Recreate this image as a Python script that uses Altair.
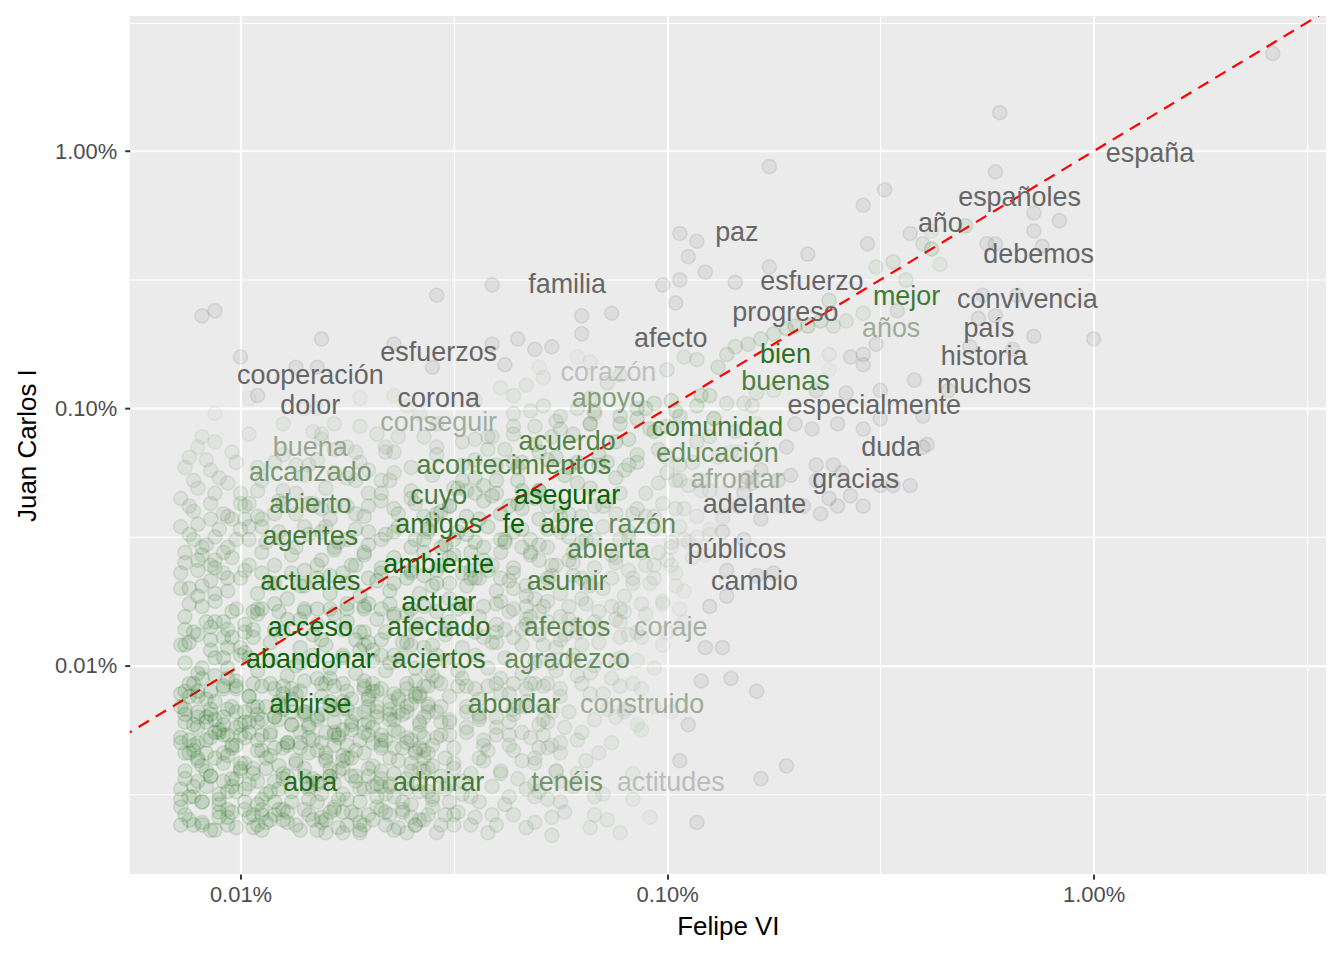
import altair as alt
import pandas as pd
import numpy as np

# word counts (share = count / total)
FELIPE_TOTAL = 6860
JC_TOTAL = 22590

WORDS = ["españa", "españoles", "año", "debemos", "paz", "familia", "esfuerzo", "mejor",
         "convivencia", "progreso", "años", "país", "afecto", "esfuerzos", "bien", "historia",
         "corazón", "cooperación", "buenas", "muchos", "corona", "apoyo", "dolor",
         "especialmente", "conseguir", "comunidad", "acuerdo", "buena", "duda", "educación",
         "acontecimientos", "alcanzado", "afrontar", "gracias", "cuyo", "asegurar", "abierto",
         "adelante", "amigos", "fe", "abre", "razón", "agentes", "abierta", "públicos",
         "ambiente", "actuales", "asumir", "cambio", "actuar", "acceso", "afectado", "afectos",
         "coraje", "abandonar", "aciertos", "agradezco", "abrirse", "abordar", "construido",
         "abra", "admirar", "tenéis", "actitudes"]
FELIPE_N = [93, 46, 30, 51, 10, 4, 15, 25,
            48, 13, 23, 39, 7, 2, 13, 38,
            5, 1, 13, 38, 2, 5, 1,
            21, 2, 9, 4, 1, 23, 9,
            3, 1, 10, 19, 2, 4, 1,
            11, 2, 3, 4, 6, 1, 5, 10,
            2, 1, 4, 11, 2, 1, 2, 4,
            7, 1, 2, 4, 1, 3, 6,
            1, 2, 4, 7]
JC_N = [277, 188, 148, 113, 137, 86, 88, 77,
        75, 67, 58, 58, 53, 47, 46, 45,
        39, 38, 36, 35, 31, 31, 29,
        29, 25, 24, 21, 20, 20, 19,
        17, 16, 15, 15, 13, 13, 12,
        12, 10, 10, 10, 10, 9, 8, 8,
        7, 6, 6, 6, 5, 4, 4, 4,
        4, 3, 3, 3, 2, 2, 2,
        1, 1, 1, 1]

# jittered points: (log10 share Felipe VI, log10 share Juan Carlos I) x 100
PTS_UPPER = [
    (-158, -162), (-222, -185), (-223, -208), (-214, -224), (-208, -227), (-214, -231), (-212, -237),
    (-223, -236), (-225, -236), (-230, -229), (-238, -231), (-238, -238), (-236, -244), (-226, -256),
    (-218, -256), (-227, -265), (-223, -264), (-214, -272), (-200, -273), (-229, -276), (-219, -277),
    (-234, -293), (-239, -314),
    (-276, -206), (-249, -215), (-254, -221), (-243, -232), (-240, -236), (-297, -232), (-293, -235),
    (-295, -241), (-253, -236), (-267, -240), (-276, -245), (-291, -247), (-251, -245), (-247, -243),
    (-297, -250), (-301, -252), (-244, -250), (-284, -251), (-262, -258), (-298, -259),
    (-354, -256), (-341, -252),
]
PTS_MID_LEFT = [
    (-409, -264), (-406, -262), (-381, -273), (-400, -280), (-364, -275), (-341, -275), (-335, -273),
    (-387, -284), (-382, -284), (-355, -284), (-338, -283), (-398, -296), (-396, -295), (-406, -302),
    (-382, -300), (-364, -295), (-361, -299), (-339, -292), (-336, -295), (-333, -291),
    (-409, -311), (-406, -313), (-410, -315), (-412, -319), (-383, -309), (-381, -310), (-378, -306),
    (-368, -310), (-366, -315), (-364, -317), (-357, -311), (-354, -315), (-348, -313), (-342, -311),
    (-336, -310), (-338, -316), (-373, -317), (-375, -315),
    (-413, -323), (-407, -324), (-411, -328), (-403, -329), (-396, -332), (-392, -321), (-387, -322),
    (-382, -320), (-378, -325), (-373, -328), (-370, -324), (-367, -328), (-364, -325), (-348, -328),
    (-343, -330), (-340, -322), (-334, -321), (-401, -321),
    (-414, -335), (-412, -338), (-406, -333), (-400, -337), (-398, -337), (-396, -342), (-392, -341),
    (-390, -337), (-387, -333), (-384, -337), (-381, -339), (-378, -338), (-373, -341), (-370, -338),
    (-367, -333), (-364, -339), (-360, -335), (-357, -342), (-354, -341), (-351, -338), (-347, -332),
    (-345, -333), (-341, -334), (-337, -338), (-334, -332), (-410, -345), (-407, -343), (-404, -341),
    (-402, -343), (-399, -343),
    (-414, -346), (-411, -351), (-409, -354), (-406, -350), (-403, -354), (-400, -347), (-398, -351),
    (-395, -346), (-390, -351), (-385, -346), (-381, -348), (-378, -354), (-375, -351), (-371, -356),
    (-370, -348), (-367, -351), (-364, -348), (-360, -354), (-357, -351), (-356, -348), (-353, -354),
    (-350, -351), (-346, -356), (-343, -354), (-339, -351), (-336, -348), (-334, -354), (-413, -356),
    (-410, -359), (-406, -359), (-404, -356),
    (-414, -364), (-410, -363), (-407, -361), (-404, -364), (-403, -366), (-398, -361), (-395, -364),
    (-392, -368), (-388, -364), (-385, -369), (-382, -361), (-379, -365), (-376, -364), (-373, -361),
    (-370, -366), (-367, -364), (-364, -368), (-360, -364), (-357, -365), (-354, -363), (-351, -368),
    (-348, -364), (-345, -366), (-342, -363), (-339, -366), (-336, -364), (-333, -369), (-412, -370),
    (-409, -369), (-406, -372),
]
PTS_MID_RIGHT = [
    (-320, -264), (-313, -263), (-320, -271), (-331, -277), (-327, -276), (-321, -280), (-318, -282),
    (-330, -284), (-329, -288), (-314, -290), (-311, -287), (-300, -285), (-296, -280), (-293, -281),
    (-288, -284), (-286, -279), (-284, -276), (-281, -275), (-278, -273), (-275, -271), (-272, -269),
    (-270, -268), (-267, -268), (-264, -266), (-261, -268), (-258, -266), (-254, -263), (-246, -262),
    (-262, -279), (-257, -280), (-254, -283), (-254, -279), (-251, -275), (-242, -289), (-250, -293),
    (-258, -294), (-262, -285), (-265, -293), (-275, -293), (-279, -294), (-282, -298), (-286, -298),
    (-293, -299), (-290, -295), (-299, -297), (-303, -298), (-307, -300), (-311, -303), (-317, -302),
    (-321, -300), (-325, -303), (-329, -299), (-331, -307), (-325, -308), (-318, -306), (-311, -306),
    (-304, -308), (-297, -303), (-289, -304), (-270, -306), (-266, -308), (-260, -306), (-254, -308),
    (-250, -304), (-240, -303), (-278, -313), (-272, -315), (-283, -317), (-328, -320), (-321, -321),
    (-314, -321), (-310, -324), (-307, -321), (-300, -319), (-300, -325), (-297, -328), (-295, -330),
    (-292, -328), (-287, -333), (-282, -333), (-280, -329), (-278, -324), (-274, -328), (-271, -326),
    (-265, -322), (-261, -322), (-259, -325), (-265, -328), (-257, -334), (-260, -338), (-262, -335),
    (-264, -341), (-254, -338), (-247, -330), (-250, -330), (-243, -330), (-240, -315), (-268, -338),
    (-331, -335), (-328, -338), (-323, -341), (-317, -338), (-312, -341), (-307, -339), (-303, -342),
    (-298, -339), (-297, -346), (-296, -351), (-293, -350), (-299, -354), (-302, -356), (-307, -355),
    (-311, -351), (-317, -351), (-323, -350), (-328, -354), (-332, -351), (-330, -359), (-326, -361),
    (-323, -359), (-312, -360), (-309, -363), (-305, -361), (-300, -359), (-298, -364), (-303, -366),
    (-308, -368), (-313, -366), (-318, -368), (-322, -365), (-328, -366), (-286, -363), (-279, -365),
    (-275, -364), (-278, -343), (-273, -338), (-287, -343), (-290, -347), (-282, -351), (-285, -338),
]
PTS_LOW_LEFT = [
    (-412, -376), (-406, -375), (-401, -378), (-396, -378), (-395, -378), (-391, -379), (-385, -379),
    (-382, -378), (-379, -378), (-375, -376), (-371, -377), (-370, -376), (-367, -378), (-364, -380),
    (-360, -378), (-348, -376), (-343, -377), (-340, -376), (-336, -378), (-333, -377),
    (-413, -386), (-411, -387), (-407, -385), (-404, -383), (-403, -386), (-399, -387), (-397, -389),
    (-372, -387), (-370, -391), (-367, -390), (-340, -387), (-336, -389), (-334, -386),
    (-412, -391), (-407, -390), (-403, -393), (-404, -397), (-399, -395), (-372, -394), (-371, -392),
    (-367, -396), (-364, -396), (-360, -392), (-357, -393), (-354, -396), (-340, -391),
    (-412, -407), (-409, -405), (-406, -404), (-403, -405), (-401, -409), (-413, -410), (-410, -412),
    (-407, -410), (-397, -407), (-393, -407), (-390, -408), (-386, -410), (-382, -405), (-379, -405),
    (-376, -407), (-371, -408), (-370, -412), (-367, -409), (-364, -411), (-361, -409), (-358, -412),
    (-356, -408), (-353, -407), (-348, -405), (-345, -409), (-342, -408), (-339, -405), (-336, -407),
    (-333, -409),
    (-414, -416), (-410, -418), (-408, -422), (-406, -421), (-404, -420), (-403, -417), (-400, -423),
    (-413, -422), (-399, -418), (-396, -416), (-395, -421), (-392, -420), (-390, -417), (-388, -423),
    (-385, -418), (-382, -420), (-379, -416), (-376, -414), (-374, -422), (-371, -418), (-370, -416),
    (-368, -420), (-365, -417), (-363, -413), (-361, -418), (-359, -412), (-357, -420), (-356, -416),
    (-353, -422), (-351, -421), (-347, -418), (-344, -421), (-340, -420), (-337, -422), (-336, -417),
    (-412, -429), (-410, -430), (-406, -426), (-404, -427), (-402, -432), (-413, -434), (-408, -434),
    (-406, -436), (-403, -435), (-400, -438), (-398, -426), (-395, -427), (-392, -432), (-389, -430),
    (-386, -432), (-384, -434), (-381, -430), (-378, -427), (-376, -435), (-375, -431), (-371, -426),
    (-369, -430), (-367, -427), (-364, -432), (-361, -430), (-359, -434), (-356, -434), (-353, -427),
    (-351, -427), (-343, -429), (-344, -436), (-337, -431), (-334, -426),
    (-410, -445), (-407, -443), (-404, -445), (-403, -449), (-400, -440), (-396, -445), (-394, -440),
    (-393, -449), (-389, -443), (-385, -440), (-382, -445), (-379, -443), (-376, -440), (-373, -443),
    (-371, -448), (-370, -443), (-367, -447), (-364, -442), (-361, -448), (-358, -440), (-355, -439),
    (-352, -448), (-350, -440),
    (-414, -452), (-409, -453), (-405, -452), (-403, -456), (-399, -453), (-397, -458), (-395, -456),
    (-392, -453), (-389, -457), (-385, -456), (-382, -453), (-378, -456), (-376, -457), (-373, -458),
    (-371, -462), (-414, -462), (-411, -462), (-406, -464), (-403, -462), (-396, -462), (-395, -464),
    (-392, -458), (-390, -460), (-382, -464), (-380, -465), (-376, -465), (-372, -465), (-367, -456),
    (-365, -458), (-364, -464), (-361, -465), (-359, -462), (-356, -458), (-354, -465), (-351, -453),
    (-350, -458), (-346, -462), (-342, -465),
]
PTS_LOW_RIGHT = [
    (-331, -374), (-328, -375), (-323, -377), (-319, -376), (-313, -377), (-310, -379), (-306, -376),
    (-301, -376), (-297, -378), (-290, -377), (-286, -373),
    (-332, -381), (-328, -383), (-323, -382), (-317, -383), (-311, -383), (-307, -387), (-300, -387),
    (-311, -389), (-325, -390), (-329, -392), (-320, -392), (-291, -393), (-287, -393),
    (-331, -399), (-327, -399), (-322, -398), (-318, -403), (-312, -399), (-307, -398),
    (-332, -407), (-328, -407), (-325, -409), (-321, -404), (-318, -411), (-313, -405), (-311, -408),
    (-308, -407), (-292, -406), (-285, -405), (-279, -410),
    (-329, -416), (-314, -417), (-312, -420), (-310, -418), (-303, -416), (-299, -418),
    (-329, -421), (-324, -424), (-321, -429), (-329, -427), (-325, -430), (-330, -432), (-325, -434),
    (-331, -436),
    (-307, -423), (-306, -425), (-295, -423), (-316, -434), (-297, -437), (-272, -439), (-278, -444),
    (-308, -442), (-321, -442), (-325, -445),
    (-331, -451), (-325, -453), (-317, -451), (-308, -452), (-317, -458), (-314, -460), (-311, -465),
    (-327, -466), (-293, -461),
]
# further overlapping points of the dense low-frequency cloud (estimated from its shading)
PTS_CLOUD = [
    (-413, -458), (-409, -461), (-405, -457), (-401, -463), (-398, -459), (-394, -461), (-391, -456),
    (-387, -462), (-384, -458), (-380, -460), (-377, -463), (-374, -457), (-369, -460), (-366, -462),
    (-362, -457), (-358, -460), (-353, -462), (-349, -457), (-345, -459), (-340, -462), (-336, -458),
    (-331, -461), (-324, -457), (-318, -463), (-304, -459),
    (-414, -448), (-411, -451), (-408, -447), (-405, -454), (-401, -449), (-398, -446), (-395, -452),
    (-391, -448), (-388, -453), (-384, -447), (-381, -450), (-378, -446), (-375, -452), (-372, -448),
    (-368, -451), (-365, -446), (-362, -453), (-358, -449), (-355, -452), (-351, -446), (-348, -450),
    (-344, -453), (-341, -447), (-337, -451), (-333, -448), (-328, -452), (-322, -447), (-315, -450),
    (-413, -441), (-410, -437), (-407, -443), (-404, -438), (-401, -444), (-397, -440), (-394, -436),
    (-390, -442), (-387, -438), (-383, -444), (-380, -437), (-377, -441), (-374, -436), (-370, -440),
    (-367, -444), (-363, -437), (-360, -441), (-357, -436), (-353, -443), (-350, -438), (-346, -442),
    (-343, -437), (-339, -441), (-335, -444), (-331, -438), (-326, -441), (-319, -437),
    (-414, -428), (-411, -433), (-408, -429), (-405, -426), (-402, -431), (-399, -428), (-396, -433),
    (-393, -427), (-389, -431), (-386, -426), (-383, -429), (-380, -434), (-377, -428), (-373, -433),
    (-370, -427), (-367, -431), (-363, -426), (-360, -429), (-357, -433), (-354, -428), (-350, -432),
    (-347, -426), (-343, -431), (-340, -427), (-336, -433), (-332, -428), (-327, -431), (-320, -426),
    (-313, -430),
    (-413, -419), (-410, -424), (-407, -417), (-404, -423), (-401, -418), (-398, -422), (-394, -416),
    (-391, -421), (-388, -418), (-384, -424), (-381, -419), (-378, -422), (-375, -417), (-371, -423),
    (-368, -418), (-364, -421), (-361, -416), (-358, -423), (-354, -418), (-351, -422), (-347, -416),
    (-344, -420), (-340, -424), (-336, -419), (-333, -416), (-328, -422), (-323, -418), (-317, -421),
    (-310, -417),
    (-414, -411), (-411, -407), (-408, -413), (-404, -409), (-401, -406), (-398, -412), (-395, -408),
    (-391, -414), (-388, -409), (-385, -406), (-381, -412), (-378, -408), (-374, -413), (-371, -406),
    (-368, -410), (-365, -414), (-361, -407), (-358, -411), (-354, -406), (-351, -412), (-347, -408),
    (-344, -413), (-340, -407), (-337, -411), (-333, -414), (-329, -408), (-325, -412), (-320, -407),
    (-315, -411), (-306, -409),
    (-413, -399), (-410, -403), (-406, -397), (-403, -401), (-400, -396), (-396, -402), (-393, -398),
    (-389, -404), (-386, -399), (-383, -396), (-379, -401), (-376, -397), (-373, -403), (-369, -398),
    (-366, -402), (-362, -397), (-359, -401), (-355, -404), (-352, -398), (-349, -402), (-345, -396),
    (-342, -401), (-338, -397), (-334, -403), (-330, -398), (-326, -402), (-322, -396), (-317, -400),
    (-311, -397), (-303, -401),
    (-414, -392), (-410, -388), (-407, -394), (-404, -389), (-400, -393), (-397, -386), (-393, -391),
    (-390, -387), (-386, -393), (-383, -388), (-380, -392), (-376, -386), (-373, -390), (-369, -394),
    (-366, -387), (-362, -391), (-359, -386), (-355, -392), (-352, -388), (-348, -393), (-345, -387),
    (-341, -391), (-338, -386), (-334, -392), (-330, -388), (-326, -393), (-321, -387), (-316, -391),
    (-309, -388), (-301, -392),
    (-413, -381), (-409, -377), (-406, -383), (-402, -379), (-399, -384), (-396, -380), (-392, -376),
    (-389, -382), (-385, -378), (-382, -384), (-378, -380), (-375, -383), (-371, -378), (-368, -382),
    (-365, -376), (-361, -380), (-358, -384), (-354, -379), (-351, -383), (-347, -377), (-344, -381),
    (-340, -384), (-337, -379), (-333, -382), (-329, -377), (-325, -381), (-321, -384), (-316, -379),
    (-312, -382), (-305, -380), (-296, -383),
    (-414, -370), (-410, -373), (-407, -367), (-403, -371), (-400, -366), (-396, -372), (-393, -368),
    (-389, -374), (-386, -369), (-382, -366), (-379, -372), (-375, -368), (-372, -373), (-368, -367),
    (-365, -371), (-361, -366), (-358, -372), (-354, -368), (-351, -374), (-347, -369), (-344, -366),
    (-340, -371), (-337, -367), (-333, -373), (-329, -368), (-325, -372), (-320, -366), (-315, -370),
    (-310, -373), (-304, -368), (-296, -371),
    (-413, -360), (-409, -357), (-406, -362), (-402, -358), (-399, -363), (-395, -356), (-392, -361),
    (-388, -357), (-385, -363), (-381, -359), (-378, -355), (-374, -361), (-371, -357), (-367, -362),
    (-364, -358), (-360, -363), (-357, -356), (-353, -361), (-350, -357), (-346, -363), (-343, -359),
    (-339, -356), (-336, -362), (-332, -357), (-327, -361), (-322, -356), (-317, -362), (-312, -358),
    (-306, -356), (-299, -361), (-291, -357),
    (-412, -349), (-408, -353), (-405, -347), (-401, -351), (-398, -346), (-394, -352), (-391, -348),
    (-387, -354), (-384, -349), (-380, -346), (-377, -352), (-373, -347), (-370, -353), (-366, -349),
    (-363, -346), (-359, -351), (-356, -347), (-352, -353), (-349, -348), (-345, -352), (-342, -346),
    (-338, -351), (-334, -347), (-330, -353), (-325, -348), (-320, -352), (-315, -346), (-309, -350),
    (-303, -347), (-295, -352), (-287, -348),
    (-411, -340), (-407, -337), (-403, -342), (-399, -338), (-395, -343), (-391, -336), (-387, -341),
    (-383, -337), (-379, -343), (-375, -338), (-371, -342), (-367, -336), (-363, -341), (-359, -337),
    (-355, -343), (-351, -338), (-347, -342), (-343, -336), (-339, -341), (-335, -337), (-330, -343),
    (-325, -338), (-320, -342), (-314, -336), (-308, -341), (-301, -337), (-293, -342), (-283, -338),
    (-410, -331), (-405, -327), (-400, -333), (-395, -328), (-390, -332), (-385, -326), (-380, -331),
    (-375, -327), (-370, -333), (-365, -328), (-360, -332), (-355, -326), (-350, -331), (-345, -327),
    (-340, -333), (-335, -328), (-330, -332), (-324, -326), (-318, -331), (-312, -327), (-305, -333),
    (-298, -328), (-290, -332), (-281, -327),
    (-408, -320), (-402, -317), (-396, -323), (-390, -318), (-384, -322), (-378, -316), (-372, -321),
    (-366, -317), (-360, -323), (-354, -318), (-348, -322), (-342, -316), (-336, -321), (-330, -317),
    (-323, -323), (-316, -318), (-309, -322), (-302, -316), (-294, -321), (-285, -317),
    (-398, -310), (-390, -306), (-381, -312), (-372, -307), (-363, -311), (-354, -306), (-345, -312),
    (-336, -307), (-327, -311), (-318, -306), (-309, -312), (-300, -307), (-290, -311), (-279, -306),
    (-385, -300), (-372, -296), (-358, -302), (-345, -297), (-332, -301), (-318, -296), (-305, -300),
    (-292, -295), (-280, -299),
]
# the darkest patches: words said once or twice by each king
PTS_CORE = [
    (-412, -460), (-407, -464), (-403, -459), (-397, -463), (-393, -460), (-386, -464), (-381, -459),
    (-375, -462), (-370, -458), (-363, -463), (-357, -460),
    (-414, -455), (-409, -453), (-402, -457), (-396, -454), (-390, -456), (-384, -452), (-378, -455),
    (-372, -453), (-366, -457), (-360, -454), (-355, -451),
    (-411, -447), (-405, -450), (-399, -448), (-392, -445), (-388, -449), (-382, -446), (-376, -450),
    (-369, -447), (-364, -451), (-358, -446),
    (-413, -444), (-408, -441), (-402, -444), (-397, -442), (-391, -439), (-385, -443), (-379, -440),
    (-373, -445), (-367, -441), (-361, -444), (-356, -440),
    (-410, -436), (-404, -434), (-399, -438), (-393, -435), (-387, -437), (-382, -433), (-376, -437),
    (-371, -434), (-365, -436), (-359, -433),
    (-414, -430), (-407, -428), (-401, -431), (-396, -429), (-390, -432), (-384, -428), (-378, -431),
    (-372, -429), (-367, -432), (-361, -428), (-355, -431),
    (-411, -423), (-405, -425), (-399, -422), (-393, -426), (-388, -423), (-382, -421), (-376, -425),
    (-370, -422), (-364, -425), (-358, -422),
    (-413, -417), (-408, -420), (-402, -416), (-396, -419), (-391, -415), (-385, -418), (-379, -414),
    (-373, -419), (-368, -416), (-362, -419), (-356, -415),
    (-410, -410), (-404, -408), (-398, -412), (-392, -409), (-387, -411), (-381, -407), (-375, -410),
    (-369, -407), (-363, -412), (-357, -408),
    (-409, -462), (-399, -456), (-389, -461), (-379, -457), (-368, -455), (-359, -462), (-412, -451),
    (-402, -447), (-394, -450), (-384, -448), (-374, -443), (-365, -447), (-356, -449), (-409, -439),
    (-400, -441), (-390, -444), (-380, -436), (-369, -439), (-360, -438), (-412, -434), (-403, -427),
    (-395, -433), (-386, -430), (-377, -427), (-366, -429), (-358, -426), (-410, -420), (-401, -424),
    (-392, -420), (-384, -423), (-374, -425), (-365, -421), (-356, -418), (-406, -414), (-397, -416),
    (-388, -413), (-378, -417), (-370, -413), (-360, -415), (-405, -459), (-395, -458), (-383, -460),
    (-372, -461), (-362, -456), (-352, -458),
    (-381, -461), (-372, -464), (-360, -459), (-350, -462), (-341, -458), (-333, -463), (-327, -459),
    (-377, -452), (-366, -450), (-355, -455), (-346, -451), (-338, -454), (-330, -449),
    (-379, -443), (-368, -446), (-357, -441), (-348, -445), (-339, -442), (-331, -446), (-326, -441),
    (-375, -436), (-362, -432), (-352, -436), (-342, -433), (-334, -437), (-328, -432),
    (-380, -426), (-369, -424), (-357, -428), (-347, -424), (-337, -427), (-330, -423),
    (-376, -417), (-365, -419), (-353, -416), (-344, -419), (-335, -416), (-327, -418),
    (-371, -409), (-359, -411), (-349, -408), (-339, -411), (-331, -407),
    (-411, -431), (-400, -427), (-389, -430), (-378, -426), (-367, -429), (-358, -432),
    (-407, -419), (-396, -422), (-385, -419), (-374, -423), (-363, -418),
    (-412, -412), (-401, -408), (-390, -411), (-380, -407), (-369, -410), (-359, -406),
    (-409, -401), (-398, -397), (-387, -400), (-376, -396), (-365, -399), (-356, -402),
    (-413, -392), (-402, -389), (-392, -386), (-381, -390), (-371, -387), (-361, -391),
    (-408, -383), (-397, -379), (-386, -382), (-375, -378), (-364, -381), (-357, -377),
]
# the middle of the cloud, around the words said 2-6 times
PTS_MIDDLE = [
    (-352, -386), (-343, -389), (-333, -384), (-324, -388), (-316, -385), (-306, -389),
    (-349, -378), (-339, -375), (-330, -379), (-320, -374), (-311, -378), (-301, -375),
    (-355, -369), (-346, -366), (-336, -370), (-327, -365), (-318, -369), (-308, -366), (-298, -369),
    (-351, -358), (-341, -361), (-332, -356), (-322, -360), (-313, -357), (-303, -361), (-294, -358),
    (-347, -349), (-338, -352), (-328, -347), (-319, -351), (-309, -348), (-299, -352), (-290, -349),
    (-353, -340), (-344, -343), (-334, -339), (-325, -342), (-315, -338), (-305, -342), (-296, -339),
    (-287, -342),
    (-349, -331), (-340, -328), (-330, -332), (-321, -329), (-311, -333), (-302, -329), (-292, -332),
    (-283, -329),
    (-345, -320), (-335, -323), (-326, -319), (-316, -322), (-307, -318), (-297, -322), (-288, -319),
    (-341, -311), (-331, -314), (-322, -310), (-312, -313), (-303, -309), (-293, -313), (-284, -309),
    (-336, -302), (-326, -305), (-317, -301), (-307, -304), (-298, -301), (-289, -304),
]

# axis ranges (log10 share) and breaks
X_LOG_DOMAIN = [-4.2597, -1.4550]
Y_LOG_DOMAIN = [-4.8109, -1.4743]
X_BREAKS_LOG = [-4, -3.5, -3, -2.5, -2, -1.5]
Y_BREAKS_LOG = [-4.5, -4, -3.5, -3, -2.5, -2, -1.5]

COLOR_LIMIT = 0.001
LOW_COLOR = "#006400"
HIGH_COLOR = "#BFBFBF"
NA_COLOR = "#666666"
FONT = "Liberation Sans, Arial, Helvetica, sans-serif"

labels_df = pd.DataFrame({
    "word": WORDS,
    "felipe": np.array(FELIPE_N) / FELIPE_TOTAL,
    "jc": np.array(JC_N) / JC_TOTAL,
})
labels_df["diff"] = (labels_df["jc"] - labels_df["felipe"]).abs()

all_pts = (PTS_UPPER + PTS_MID_LEFT + PTS_MID_RIGHT + PTS_LOW_LEFT + PTS_LOW_RIGHT
           + PTS_CLOUD + PTS_CORE + PTS_MIDDLE)
pts_df = pd.DataFrame({
    "felipe": [10 ** (p[0] / 100) for p in all_pts],
    "jc": [10 ** (p[1] / 100) for p in all_pts],
})
pts_df["diff"] = (pts_df["jc"] - pts_df["felipe"]).abs()

diag_df = pd.DataFrame({"v": [1e-5, 0.05]})

xs = alt.Scale(type="log", domain=[10 ** X_LOG_DOMAIN[0], 10 ** X_LOG_DOMAIN[1]], nice=False)
ys = alt.Scale(type="log", domain=[10 ** Y_LOG_DOMAIN[0], 10 ** Y_LOG_DOMAIN[1]], nice=False)
cs = alt.Scale(domain=[0, COLOR_LIMIT], range=[LOW_COLOR, HIGH_COLOR], interpolate="lab", clamp=True)

is_major = "abs(log(datum.value)/LN10 - round(log(datum.value)/LN10)) < 0.01"


def make_axis(values, title, **kw):
    return alt.Axis(
        values=values, title=title,
        labelExpr=f"({is_major}) ? format(datum.value, '.2%') : ''",
        grid=True, gridColor="white",
        gridWidth={"condition": {"test": is_major, "value": 2.2}, "value": 1.1},
        tickOpacity={"condition": {"test": is_major, "value": 1}, "value": 0},
        tickColor="#333333", tickWidth=2, tickSize=5,
        domain=False, labelFont=FONT, labelFontSize=22, labelColor="#4D4D4D",
        labelFlush=False, labelOverlap=False,
        titleFont=FONT, titleFontSize=26, titleColor="black", titleFontWeight="normal",
        **kw)


x_axis = make_axis([10 ** v for v in X_BREAKS_LOG], "Felipe VI", labelPadding=5, titlePadding=9)
y_axis = make_axis([10 ** v for v in Y_BREAKS_LOG], "Juan Carlos I", labelPadding=8, titlePadding=14)

na_test = f"datum.diff > {COLOR_LIMIT}"

line = alt.Chart(diag_df).mark_line(
    clip=True, color="#FF0000", strokeDash=[12, 8], strokeWidth=2.2
).encode(
    x=alt.X("v:Q", scale=xs, axis=x_axis),
    y=alt.Y("v:Q", scale=ys, axis=y_axis),
)

points = alt.Chart(pts_df).mark_point(
    filled=True, shape="circle", size=200, opacity=1,
    fillOpacity=0.1, strokeOpacity=0.13, strokeWidth=1.6, clip=True
).encode(
    x=alt.X("felipe:Q", scale=xs, axis=x_axis),
    y=alt.Y("jc:Q", scale=ys, axis=y_axis),
    fill=alt.condition(na_test, alt.value(NA_COLOR), alt.Fill("diff:Q", scale=cs, legend=None)),
    stroke=alt.condition(na_test, alt.value(NA_COLOR), alt.Stroke("diff:Q", scale=cs, legend=None)),
)

texts = alt.Chart(labels_df).mark_text(
    font=FONT, fontSize=27, dy=26, baseline="middle", align="center"
).encode(
    x=alt.X("felipe:Q", scale=xs, axis=x_axis),
    y=alt.Y("jc:Q", scale=ys, axis=y_axis),
    text="word:N",
    color=alt.condition(na_test, alt.value(NA_COLOR), alt.Color("diff:Q", scale=cs, legend=None)),
)

chart = alt.layer(line, points, texts).properties(
    width=1199, height=860,
    padding={"left": 122, "top": 7, "right": 10, "bottom": 80},
    autosize=alt.AutoSizeParams(type="none"),
    background="white",
).configure_view(fill="#EBEBEB", stroke=None)

chart.save("out.html", embed_options={"renderer": "svg", "actions": False})
